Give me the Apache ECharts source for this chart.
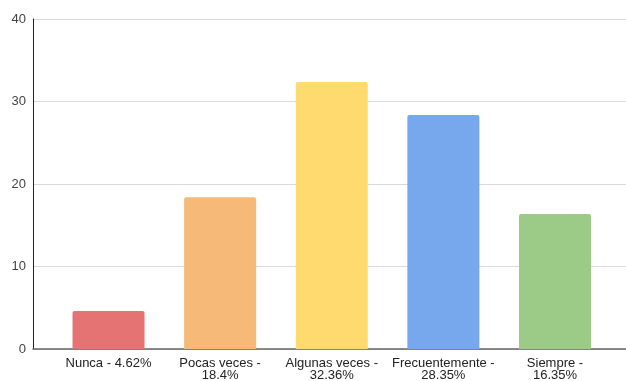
<!DOCTYPE html>
<html>
<head>
<meta charset="utf-8">
<script src="https://cdn.jsdelivr.net/npm/echarts@6/dist/echarts.min.js"></script>
<style>
  html, body { margin: 0; padding: 0; background: #fff; }
  #chart { width: 626px; height: 381px; }
</style>
</head>
<body>
<div id="chart"></div>
<script>
// Survey answers: how often, with share of responses (%)
const categories = ['Nunca - 4.62%', 'Pocas veces - 18.4%', 'Algunas veces - 32.36%', 'Frecuentemente - 28.35%', 'Siempre - 16.35%'];
const values = [4.62, 18.4, 32.36, 28.35, 16.35];
const colors = ['#E57373', '#F6B978', '#FFDA6F', '#77A7EC', '#9BCB87'];
const yTicks = { min: 0, max: 40, interval: 10 };

const chart = echarts.init(document.getElementById('chart'), null, { renderer: 'canvas' });

const font = 'Arial, "Liberation Sans", sans-serif';

// long labels go onto two lines, breaking after the dash
const wrapLabel = s => (s.length > 14 ? s.replace(' - ', ' -\n') : s);

chart.setOption({
  animation: false,
  grid: [
    // frame: value axis, gridlines and baseline across full width
    { left: 33, right: 0, top: 19, bottom: 32, containLabel: false, outerBoundsMode: 'none' },
    // bars: category band inset from the frame
    { left: 52.7, right: 15.2, top: 19, bottom: 32, containLabel: false, outerBoundsMode: 'none' }
  ],
  xAxis: [
    {
      gridIndex: 0, type: 'value', min: 0, max: 1,
      axisLine: { show: true, onZero: false, lineStyle: { color: '#666', width: 1.5 } },
      axisTick: { show: false }, axisLabel: { show: false }, splitLine: { show: false }
    },
    {
      gridIndex: 1, type: 'category', data: categories,
      axisLine: { show: false }, axisTick: { show: false },
      axisLabel: {
        interval: 0, margin: 8, color: '#222', fontSize: 13, fontFamily: font,
        lineHeight: 12, formatter: wrapLabel
      }
    }
  ],
  yAxis: [
    {
      gridIndex: 0, type: 'value', min: yTicks.min, max: yTicks.max, interval: yTicks.interval,
      axisLine: { show: true, lineStyle: { color: '#222', width: 1 } },
      axisTick: { show: false },
      axisLabel: { margin: 7, color: '#444', fontSize: 13, fontFamily: font },
      splitLine: { lineStyle: { color: '#d9d9d9', width: 1 } }
    },
    {
      gridIndex: 1, type: 'value', min: yTicks.min, max: yTicks.max, interval: yTicks.interval,
      show: false, splitLine: { show: false }
    }
  ],
  series: [{
    type: 'bar',
    xAxisIndex: 1, yAxisIndex: 1,
    barWidth: 72,
    data: values.map((v, i) => ({ value: v, itemStyle: { color: colors[i], borderRadius: [2, 2, 0, 0] } }))
  }]
});
</script>
</body>
</html>
